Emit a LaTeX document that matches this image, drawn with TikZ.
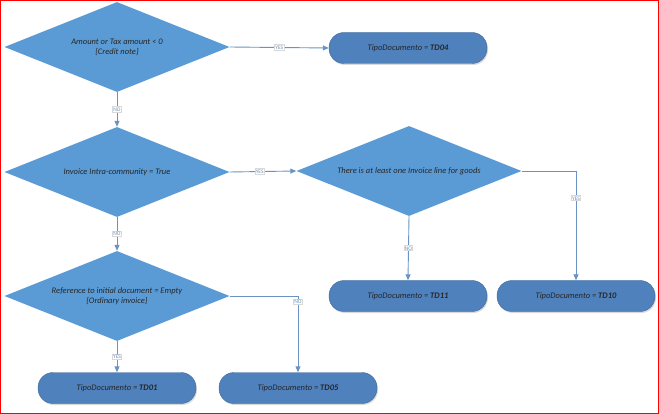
\documentclass[tikz,border=0pt]{standalone}
\usepackage{fontspec}
\setmainfont{Carlito}
\usetikzlibrary{shapes.geometric,arrows.meta,shadows}
\definecolor{dfill}{HTML}{5B9BD5}
\definecolor{tfill}{HTML}{4F81BD}
\definecolor{lcol}{HTML}{6A93C4}
\begin{document}
\begin{tikzpicture}[x=1pt,y=-1pt,
 dec/.style={draw=none,fill=dfill,diamond,aspect=2.5,inner sep=0pt,minimum width=225pt,minimum height=90pt,font=\itshape\fontsize{8.5}{10}\selectfont,align=center,text=black!85},
 term/.style={rounded corners=15pt,fill=tfill,draw=tfill!80!black,minimum width=158pt,minimum height=31pt,font=\itshape\fontsize{8.5}{10}\selectfont,text=black!85,drop shadow={shadow xshift=1pt,shadow yshift=-1.5pt,opacity=0.3}},
 con/.style={draw=lcol,line width=0.9pt,-{Triangle[length=6pt,width=5pt]}},
 lab/.style={fill=white,draw=black!15,inner sep=0.8pt,font=\fontsize{5.5}{6}\selectfont,text=lcol!80!gray}]
\useasboundingbox (0,0) rectangle (659,414);
\draw[red,line width=1pt] (0.5,0.5) rectangle (658.5,413.5);
\node[dec] (d1) at (117,47) {Amount or Tax amount < 0\\\{Credit note\}};
\node[dec] (d2) at (117,172) {Invoice Intra-community = True};
\node[dec] (d3) at (409,171) {There is at least one Invoice line for goods};
\node[dec] (d4) at (117,296) {Reference to initial document = Empty\\\{Ordinary invoice\}};
\node[term] (t04) at (408,48) {TipoDocumento = \textbf{TD04}};
\node[term] (t11) at (408,296) {TipoDocumento = \textbf{TD11}};
\node[term] (t10) at (576,296) {TipoDocumento = \textbf{TD10}};
\node[term] (t01) at (117,388) {TipoDocumento = \textbf{TD01}};
\node[term] (t05) at (298,388) {TipoDocumento = \textbf{TD05}};
\coordinate (c3) at (576,171);
\coordinate (c4) at (298,296);
\draw[con] (d1.east) -- node[lab,pos=0.5]{YES} (t04.west);
\draw[con] (d1.south) -- node[lab]{NO} (d2.north);
\draw[con] (d2.east) -- node[lab,pos=0.45]{YES} (d3.west);
\draw[con] (d2.south) -- node[lab]{NO} (d4.north);
\draw[con] (d3.south) -- node[lab,pos=0.5]{NO} (t11.north);
\draw[con] (d3.east) -- (c3) -- node[lab,pos=0.25]{YES} (t10.north);
\draw[con] (d4.east) -- (c4) -- node[lab,pos=0.08]{NO} (t05.north);
\draw[con] (d4.south) -- node[lab]{YES} (t01.north);
\end{tikzpicture}
\end{document}
